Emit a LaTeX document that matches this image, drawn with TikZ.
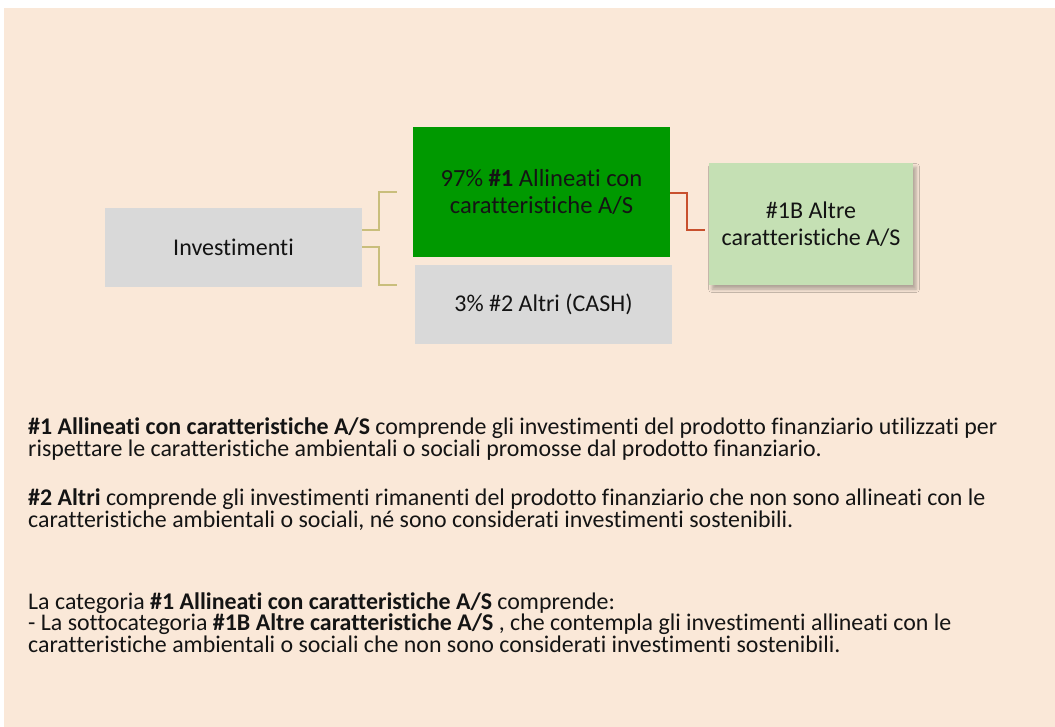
\documentclass[tikz,border=0pt]{standalone}
\usepackage{fontspec}
\setmainfont{Carlito}[Ligatures={NoCommon,NoContextual}]
\usetikzlibrary{shadows.blur}
\definecolor{pagebg}{RGB}{250,232,216}
\definecolor{boxgray}{RGB}{217,217,217}
\definecolor{boxgreen}{RGB}{0,153,0}
\definecolor{palegreen}{RGB}{197,224,180}
\definecolor{linktan}{RGB}{201,190,124}
\definecolor{linkred}{RGB}{200,80,45}
\definecolor{inkdark}{RGB}{20,20,20}
\begin{document}
\begin{tikzpicture}[x=1pt,y=-1pt,
  box/.style={rectangle, inner sep=0pt, align=center, text=inkdark,
    font=\fontsize{24}{26.5}\selectfont},
  bodyline/.style={anchor=base west, inner sep=0pt, text=inkdark,
    font=\fontsize{23.9}{22}\selectfont},
  tanlink/.style={draw=linktan, line width=2pt},
  redlink/.style={draw=linkred, line width=1.5pt}]
\useasboundingbox (0,0) rectangle (1055,727);
\fill[pagebg] (4,8) rectangle (1055,727);

% boxes of the allocation tree
\node[box, fill=boxgray, minimum width=257pt, minimum height=79pt] (inv) at (233.5,247.5) {Investimenti};
\node[box, fill=boxgreen, minimum width=257pt, minimum height=130pt,
  font=\fontsize{24.6}{27}\selectfont] (aligned) at (541.5,192) {97\% \textbf{\#1} Allineati con\\caratteristiche A/S};
\node[box, fill=boxgray, minimum width=257pt, minimum height=79pt] (other) at (543.5,304.5) {3\% \#2 Altri (CASH)};
\node[box, fill=palegreen, minimum width=204pt, minimum height=122pt,
  blur shadow={shadow xshift=3pt, shadow yshift=-4pt, shadow blur radius=3.5pt, shadow opacity=30}] (otherchar) at (811,224) {\#1B Altre\\caratteristiche A/S};

% connectors
\coordinate (upEnd) at (397,192);
\coordinate (lowEnd) at (397,285);
\draw[tanlink] ([yshift=17.5pt]inv.east) -- ++(17,0) |- (upEnd);
\draw[tanlink] ([yshift=0.5pt]inv.east) -- ++(17,0) |- (lowEnd);
\draw[redlink] ([yshift=-1pt]aligned.east) -- ++(17,0) |- ([xshift=-4pt,yshift=-6pt]otherchar.west);

% explanatory notes
\node[bodyline] (n1a) at (28,434) {\textbf{\#1 Allineati con caratteristiche A/S} comprende gli investimenti del prodotto finanziario utilizzati per};
\node[bodyline] (n1b) at (28,456) {rispettare le caratteristiche ambientali o sociali promosse dal prodotto finanziario.};
\node[bodyline] (n2a) at (28,505) {\textbf{\#2 Altri} comprende gli investimenti rimanenti del prodotto finanziario che non sono allineati con le};
\node[bodyline] (n2b) at (28,527) {caratteristiche ambientali o sociali, né sono considerati investimenti sostenibili.};
\node[bodyline] (n3a) at (28,609) {La categoria \textbf{\#1 Allineati con caratteristiche A/S} comprende:};
\node[bodyline] (n3b) at (28,630.5) {- La sottocategoria \textbf{\#1B Altre caratteristiche A/S} , che contempla gli investimenti allineati con le};
\node[bodyline] (n3c) at (28,652) {caratteristiche ambientali o sociali che non sono considerati investimenti sostenibili.};
\end{tikzpicture}
\end{document}
